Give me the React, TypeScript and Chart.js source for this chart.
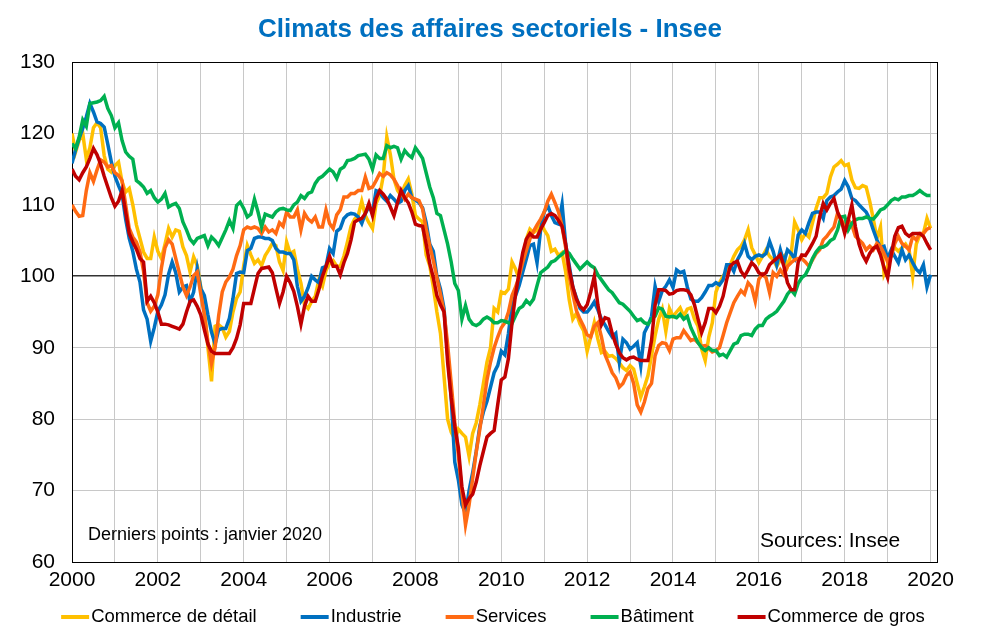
import React, { useEffect, useRef } from 'react';
import { Chart, registerables } from 'chart.js';

Chart.register(...registerables);

// ---------- data ----------
const START_YEAR = 2000;
const titleText = 'Climats des affaires sectoriels - Insee';
const noteText = 'Derniers points : janvier 2020';
const sourceText = 'Sources: Insee';
const seriesNames = ['Commerce de détail', 'Industrie', 'Services', 'Bâtiment', 'Commerce de gros'];
const seriesColors = ['#FFC000', '#0070C0', '#FF6A13', '#00B050', '#C00000'];
const yTickValues = [60, 70, 80, 90, 100, 110, 120, 130];
const gridYears = [2000, 2001, 2002, 2003, 2004, 2005, 2006, 2007, 2008, 2009, 2010, 2011, 2012, 2013, 2014, 2015, 2016, 2017, 2018, 2019, 2020];
const labelYears = [2000, 2002, 2004, 2006, 2008, 2010, 2012, 2014, 2016, 2018, 2020];
const referenceLevel = 100;

// monthly values, January 2000 .. January 2020
const commerceDetail = [
  120, 117.4, 119, 120, 116.4, 118, 120.8, 121.5, 120.8, 116.9, 115, 114.6,
  115.5, 116, 113.2, 111.8, 112.3, 110, 107.2, 105.3, 103.4, 102.5, 102.5, 105.5,
  103.5, 102.5, 104.5, 106.7, 105.5, 106.5, 106.3, 104.1, 102.9, 100.6, 102.7, 101.5,
  98.5, 95.5, 90, 85.3, 93, 93.2, 92.8, 91.5, 92.3, 95, 96.9, 97.8,
  101.5, 104.3, 103, 101.8, 102.3, 101.5, 102.9, 103.7, 104.6, 104.3, 102, 100.8,
  104.8, 103.2, 103.5, 101, 99, 96, 95.5, 96.5, 97.2, 99.5, 98.6, 100.8,
  101.8, 102.2, 101.4, 101.4, 102.8, 104.8, 107, 108, 108.5, 110.5, 108.5, 107.5,
  106.7, 110.2, 111.3, 114, 119.5, 117, 113.6, 112, 111.3, 112.7, 113.6, 111.5,
  108.5, 108, 107.6, 103, 101.5, 98.5, 95, 92, 86, 80, 78.2, 77.2,
  78.6, 78, 77.5, 74.8, 78, 79.5, 82, 85, 88, 90, 95.5, 95,
  97.8, 97.6, 98.2, 102, 101, 99.6, 102.4, 105.2, 106.6, 106.1, 106.5, 107.5,
  106.5, 105.7, 103.5, 103.8, 102.9, 103.3, 100.6, 96.7, 94, 94.8, 93.3, 92.4,
  89.5, 91.5, 93.5, 91.2, 89.3, 89.5, 88.8, 88.9, 88.5, 87.9, 87.2, 86.8,
  87.5, 87, 85, 83.1, 84.5, 86.1, 88.9, 91.7, 94, 95.4, 92.3, 95.5,
  94.4, 95, 95.6, 94.4, 95.4, 95.6, 94, 93, 89.8, 88.2, 91.5, 93.5,
  97.8, 99.1, 100, 100.7, 101.6, 102.8, 103.7, 104.2, 105.1, 106.5, 104, 103,
  101.9, 102.8, 103.7, 102.8, 102.3, 101.4, 102.3, 102.8, 101.4, 103, 107.6, 106.5,
  105.1, 106, 105.5, 107.5, 109.5, 111, 111, 111.6, 113.9, 115.3, 115.7, 116.2,
  115.5, 115.7, 113.5, 112.4, 112.3, 112.7, 112.5, 110.5, 108, 105.3, 106.9, 100.3,
  101.5, 103.5, 104, 103.5, 104, 104.5, 103.7, 100, 104.5, 105.8, 106, 108.1,
  106.7,
];

const industrie = [
  115.8, 117.7, 119.3, 120.7, 122.3, 124.2, 123, 121.6, 121.4, 120.9, 118.5, 116,
  114, 112.7, 111.5, 108, 105.3, 103.5, 101, 99.2, 95.3, 94, 90.9, 92.8,
  95.1, 96, 97.4, 100.3, 102, 100.5, 97.8, 98.5, 98.7, 96.4, 97.8, 101.1,
  98.3, 97.3, 94.6, 92.2, 90.5, 92.5, 92.7, 92.7, 94.1, 96.9, 100.4, 100.6,
  100.5, 103.6, 103.9, 105.3, 105.5, 105.5, 105.3, 105.3, 105, 103.9, 103.4, 103.4,
  103.2, 103.2, 102.3, 98.6, 96.5, 97.2, 98.4, 100, 99.5, 99.1, 101.2, 101.4,
  103.9, 103.2, 106.3, 106.7, 108.1, 108.6, 108.8, 108.7, 108.3, 107.4, 108.8, 109.7,
  109, 112, 111.8, 111, 110.5, 111.3, 110.8, 110.2, 110.5, 112, 112.7, 111,
  110.7, 110.3, 109.6, 107.5, 104.5, 103.5, 100, 98.2, 95.5, 89, 83, 74,
  71.5, 68, 66.8, 70, 72.5, 75.5, 79, 81, 82.5, 84.5, 86.5, 87.5,
  89.5, 89, 92, 96, 97.3, 98.7, 100.6, 102.4, 104.3, 104.5, 101.9, 106.5,
  109, 109.9, 108.5, 107.5, 107.3, 110.1, 104.5, 101.5, 98.5, 97, 95.5, 95,
  95, 95.6, 96.4, 95.3, 94, 93.2, 92.3, 91.5, 92, 88, 91.2, 90.7,
  89.8, 90.2, 90.7, 87.5, 92.1, 93.1, 94.4, 98.6, 96.5, 98, 98.6, 99.5,
  98.4, 100.9, 100.5, 100.7, 98.5, 96.8, 96.5, 96.5, 97, 97.8, 98.7, 98.7,
  99.1, 98.8, 99.5, 101.6, 101.6, 100.7, 102.3, 103.2, 104.6, 102.8, 102.3, 102.8,
  103, 102.8, 103.2, 104.9, 103.5, 101.6, 103.7, 101.9, 103.7, 103.2, 102.5, 105.8,
  106.5, 106, 107.5, 108.8, 109, 109, 108.1, 110.6, 111.1, 111.3, 111.8, 112.2,
  113.4, 112.5, 110.9, 110.6, 110, 109.5, 109, 108, 106.5, 105.1, 104, 104.2,
  102.5, 103.7, 102.8, 101.9, 103.7, 102.3, 103, 101.9, 101, 100.5, 101.6, 98.5,
  100.2,
];

const services = [
  110, 109.1, 108.4, 108.5, 112, 114.5, 113.3, 114.9, 116.3, 116, 115.3, 115.5,
  114.5, 114.1, 113.4, 110, 106.7, 105.5, 104.8, 103.4, 100.7, 96.3, 95.1, 95.8,
  97.4, 101.2, 104, 105.1, 104.5, 102.5, 100.5, 98.5, 97.3, 98.5, 100.1, 100.6,
  97.5, 94.6, 90.8, 87.8, 90, 94.5, 97.8, 99.2, 99.9, 101, 102.9, 104.3,
  106.5, 106.9, 106.7, 106.9, 106.7, 106, 106.9, 106.2, 106.5, 106, 107.5, 107,
  109, 108.3, 108.3, 109.3, 106.5, 108.8, 108, 107.6, 108.3, 106.9, 106.9, 109.3,
  107.4, 106.7, 108.6, 109.3, 111.1, 111.1, 111.6, 111.6, 112, 112, 113.9, 112.3,
  112.5, 113.4, 114.4, 114, 114.5, 114.2, 113.6, 112.7, 111.7, 110.8, 111.5, 111,
  110.8, 110.6, 109.4, 106.6, 104.3, 102.2, 99.8, 97.5, 95, 90.5, 85, 79.5,
  75, 69.8, 65.2, 68, 71.7, 75.4, 78.6, 81.9, 85.5, 88, 90, 91.5,
  92.8, 93.5, 95, 97.3, 98.5, 100, 102, 103.6, 105.2, 106.3, 107.2, 108,
  109, 110.5, 111.5, 110.3, 109, 107, 104, 100, 97.5, 95.2, 94, 93,
  91.8, 91.5, 93, 93.5, 91.5, 89, 87.8, 86.5, 85.8, 84.5, 85, 86.1,
  86.6, 85, 82, 81, 82.4, 84.3, 85, 88.9, 90.3, 90.7, 90.6, 89.6,
  91.2, 91.4, 91.4, 92.4, 91.7, 91, 91.2, 90.7, 90.2, 90.3, 89.9, 89.4,
  89.6, 90, 91.7, 93.5, 94.9, 96.3, 97.2, 98, 97.5, 99.1, 98.5, 96.5,
  99.6, 100.3, 99.8, 97.7, 100.5, 100, 100.9, 100.2, 101.4, 101.9, 102.3, 102.5,
  102.5, 102, 101.4, 102.3, 103.2, 103.7, 105.1, 105.6, 106.3, 106.9, 108.8, 107.9,
  107.2, 107.9, 107.2, 105.6, 105.1, 104.6, 103.7, 104.2, 103.7, 104.6, 104.2, 103.2,
  102, 102.8, 104.6, 105.6, 104.6, 104.2, 103.7, 105.6, 105.1, 106, 106, 106.6,
  106.8,
];

const batiment = [
  118.6, 117.9, 119.5, 121.9, 121, 124.2, 124.3, 124.4, 124.6, 125.2, 123.5, 122.5,
  120.8, 121.5, 119, 117.4, 116.8, 116.4, 113.4, 113, 112.5, 111.6, 112, 111,
  110.4, 110.8, 111.6, 109.7, 110, 110.2, 109.5, 107.6, 106.5, 105.2, 104.6, 105.3,
  105.5, 105.7, 104.3, 105.5, 105, 104.3, 105.4, 106.5, 107.8, 106.7, 109.9, 110.4,
  109.5, 108.3, 108.7, 110.8, 109, 106.9, 108.7, 108.5, 108.3, 109, 109.4, 109.5,
  109.3, 109.2, 110, 110.4, 111.3, 110.9, 111.6, 111.8, 113, 113.7, 114, 114.5,
  115, 114.6, 113.7, 115, 115.3, 116.2, 116.3, 116.5, 116.9, 117, 117.1, 116.4,
  115, 117, 116.5, 116.5, 118.3, 118, 118.2, 118, 116.4, 117.6, 117, 116.6,
  118, 117.3, 116.5, 114.5, 112.5, 111, 108.8, 108.5, 106.5, 104.5, 102, 99,
  98, 94, 95.9, 94, 93.3, 93.1, 93.4, 94, 94.3, 94, 93.5, 93.5,
  93.8, 93.7, 93.5, 93.4, 94.5, 95.5, 95.8, 96.6, 96.1, 96.8, 98.7, 100.5,
  100.9, 101.3, 102, 102.2, 102.7, 103.1, 103.6, 103.2, 102.4, 101.7, 101, 101.5,
  102, 101.5, 101.2, 100.2, 99.5, 98.8, 98.1, 97.7, 97, 96.3, 96.1, 95.6,
  95.1, 94.4, 93.8, 94, 93.5, 93.3, 94, 94.4, 95.6, 95.4, 94.4, 94.3,
  94.4, 94.2, 94.7, 94, 94.4, 92.8, 91.7, 90.7, 90, 89.6, 90, 89.6,
  89.6, 88.9, 89.1, 88.7, 89.6, 90.5, 90.7, 91.7, 91.9, 91.9, 91.7, 92.6,
  93.1, 93.1, 94, 94.4, 94.7, 95.1, 95.8, 96.5, 97.5, 98.1, 97.5, 99,
  99.8, 100.2, 101.2, 102.5, 103.4, 104, 104.1, 104.4, 105, 105.3, 106.5, 108.3,
  108.4, 106.5, 107.4, 107.9, 108.1, 108.1, 108.3, 108.1, 108, 108.6, 109.3, 109.5,
  110, 110.6, 110.9, 110.7, 111.1, 111.1, 111.3, 111.3, 111.6, 112, 111.6, 111.3,
  111.3,
];

const commerceGros = [
  115, 114, 113.5, 114.5, 115.3, 116.5, 117.9, 117, 115.7, 114, 112.5, 111,
  109.8, 110.5, 112, 109, 106, 104.8, 103.8, 102.5, 102, 96.5, 97.2, 96.3,
  95, 93.3, 93.3, 93.2, 93, 92.8, 92.6, 93.3, 95, 96.5, 96.7, 95.8,
  94.6, 92.5, 90.5, 89.5, 89.2, 89.2, 89.2, 89.2, 89.2, 90, 91.3, 93.2,
  96.2, 96.2, 96.2, 98.3, 100.4, 101.1, 101.2, 101.3, 100.5, 98.3, 96.2, 97.8,
  100, 99.1, 97.9, 95.8, 93.3, 95.8, 97.2, 96.5, 96.5, 98.1, 100, 101.4,
  102.8, 101.4, 101.4, 100.2, 101.9, 103.2, 105.1, 107.6, 107.9, 108.1, 108.8, 110.2,
  108.5, 110.9, 112, 111.5, 110.8, 109.7, 108.5, 110.3, 112, 111, 110.3, 109,
  107.3, 107.1, 107, 104.5, 101.8, 99.8, 97.3, 96, 95, 88, 83, 79,
  76, 70.5, 68, 68.9, 69.5, 71.2, 73.5, 75.5, 77.5, 78, 78.4, 82,
  85.5, 85.9, 88.5, 93.5, 97.5, 100.5, 103.3, 105.2, 106, 105.5, 105.5, 106.6,
  107.5, 108.5, 108.8, 108.5, 107.8, 107, 104.5, 101, 98.5, 96.8, 95.8, 95.3,
  96, 97.8, 100, 96, 93.2, 94.2, 94, 92, 90.5, 89.3, 88.6, 88.3,
  88.6, 88.7, 88.4, 88.2, 88.2, 88.2, 91, 96, 98.1, 98.1, 98, 97.5,
  97.6, 98, 98.1, 98.1, 98, 97.4, 96, 94, 92.1, 93.5, 95.5, 95.5,
  94.9, 95.8, 97.2, 99.5, 101.4, 101.9, 102.1, 100.7, 100, 100.9, 101.9, 101.4,
  100.5, 100.2, 100.5, 101.6, 102.1, 102.5, 103, 101.4, 99.1, 98.1, 98.1, 102,
  103, 102.9, 103.7, 104.6, 105.6, 108.3, 110.2, 109.3, 110.2, 110.9, 109, 107.9,
  106, 107.9, 110, 106.9, 104.5, 103, 102.1, 103.2, 103.9, 104.2, 103, 101.2,
  99.8, 103, 105.6, 106.8, 107, 106, 105.6, 106, 106, 106, 105.6, 104.6,
  103.7,
];

const seriesValues = [commerceDetail, industrie, services, batiment, commerceGros];
// drawing order: later Excel series on top
const seriesOrder = [5, 4, 3, 2, 1];

const FONT = '"Liberation Sans", Arial, Helvetica, sans-serif';

function toPoints(values: number[]) {
  return values.map((v, i) => ({ x: START_YEAR + i / 12, y: v }));
}

const decorPlugin = {
  id: 'decor',
  beforeDatasetsDraw(chart: any) {
    const { ctx, chartArea } = chart;
    ctx.save();
    ctx.strokeStyle = '#000000';
    ctx.lineWidth = 1;
    ctx.strokeRect(
      Math.round(chartArea.left) + 0.5,
      Math.round(chartArea.top) + 0.5,
      Math.round(chartArea.right - chartArea.left),
      Math.round(chartArea.bottom - chartArea.top)
    );
    ctx.restore();
  },
  afterDraw(chart: any) {
    const { ctx } = chart;
    ctx.save();
    // title
    ctx.font = `bold 26px ${FONT}`;
    ctx.fillStyle = '#0070C0';
    ctx.textAlign = 'center';
    ctx.textBaseline = 'middle';
    ctx.fillText(titleText, 490, 30);

    // notes inside plot
    ctx.fillStyle = '#000000';
    ctx.textAlign = 'left';
    ctx.font = `18px ${FONT}`;
    ctx.fillText(noteText, 88, 535);
    ctx.font = `21px ${FONT}`;
    ctx.fillText(sourceText, 760, 541);

    // legend
    ctx.font = `18.5px ${FONT}`;
    const lineLen = 28;
    const gapText = 2;
    const gapItem = 44;
    const ds = chart.data.datasets;
    const widths = ds.map((d: any) => lineLen + gapText + ctx.measureText(d.label).width);
    const total = widths.reduce((a: number, b: number) => a + b, 0) + gapItem * (ds.length - 1);
    let x = 493 - total / 2;
    const y = 617;
    ds.forEach((d: any, i: number) => {
      ctx.strokeStyle = d.borderColor;
      ctx.lineWidth = 4;
      ctx.beginPath();
      ctx.moveTo(x, y);
      ctx.lineTo(x + lineLen, y);
      ctx.stroke();
      ctx.fillStyle = '#000000';
      ctx.textBaseline = 'middle';
      ctx.fillText(d.label, x + lineLen + gapText, y);
      x += widths[i] + gapItem;
    });
    ctx.restore();
  },
};

export default function App() {
  const canvasRef = useRef<HTMLCanvasElement | null>(null);

  useEffect(() => {
    const canvas = canvasRef.current;
    if (!canvas) return;
    const chart = new Chart(canvas, {
      type: 'line',
      data: {
        datasets: seriesNames.map((name, i) => ({
          label: name,
          data: toPoints(seriesValues[i]),
          borderColor: seriesColors[i],
          backgroundColor: seriesColors[i],
          borderWidth: 3.5,
          pointRadius: 0,
          tension: 0,
          fill: false,
          order: seriesOrder[i],
        })),
      },
      options: {
        animation: false,
        responsive: false,
        maintainAspectRatio: false,
        layout: { padding: { top: 62, right: 46, left: 0, bottom: 0 } },
        plugins: {
          legend: { display: false },
          title: { display: false },
          tooltip: { enabled: false },
        },
        scales: {
          x: {
            type: 'linear',
            min: 2000,
            max: 2020.15,
            afterFit: (s: any) => { s.height = 81; },
            afterBuildTicks: (axis: any) => { axis.ticks = gridYears.map((v) => ({ value: v })); },
            ticks: {
              autoSkip: false,
              maxRotation: 0,
              minRotation: 0,
              padding: 6,
              color: '#000000',
              font: { family: FONT, size: 21 },
              callback: (v: any) => (labelYears.includes(Number(v)) ? String(v) : ''),
            },
            grid: { color: '#C8C8C8', lineWidth: 1, drawTicks: false },
            border: { display: false },
          },
          y: {
            min: 60,
            max: 130,
            afterFit: (s: any) => { s.width = 72; },
            afterBuildTicks: (axis: any) => { axis.ticks = yTickValues.map((v) => ({ value: v })); },
            ticks: {
              padding: 17,
              color: '#000000',
              font: { family: FONT, size: 21 },
            },
            grid: {
              drawTicks: false,
              color: (c: any) => (c.tick && c.tick.value === referenceLevel ? '#333333' : '#C8C8C8'),
              lineWidth: (c: any) => (c.tick && c.tick.value === referenceLevel ? 1.6 : 1),
            },
            border: { display: false },
          },
        },
      },
      plugins: [decorPlugin],
    });
    return () => chart.destroy();
  }, []);

  return (
    <div style={{ position: 'fixed', left: 0, top: 0, width: 983, height: 643, background: '#ffffff' }}>
      <canvas ref={canvasRef} width={983} height={643} style={{ width: 983, height: 643, display: 'block' }} />
    </div>
  );
}
